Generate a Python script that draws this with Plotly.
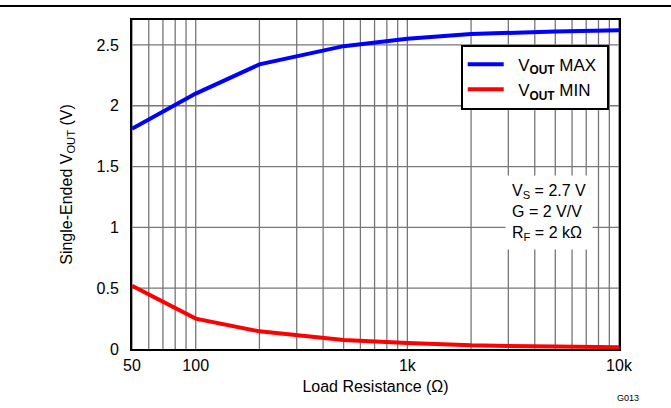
import plotly.graph_objects as go

load_res = [50, 100, 200, 500, 1000, 2000, 5000, 10000]
vout_max = [1.81, 2.10, 2.34, 2.49, 2.55, 2.59, 2.61, 2.62]
vout_min = [0.52, 0.25, 0.145, 0.075, 0.05, 0.03, 0.02, 0.015]

x_tickvals = [50, 100, 1000, 10000]
x_ticktext = ["50", "100", "1k", "10k"]
x_grid = [50, 60, 70, 80, 90, 100, 200, 300, 400, 500, 600, 700, 800, 900,
          1000, 2000, 3000, 4000, 5000, 6000, 7000, 8000, 9000, 10000]
y_tickvals = [0, 0.5, 1, 1.5, 2, 2.5]
y_ticktext = ["0", "0.5", "1", "1.5", "2", "2.5"]

font = "Liberation Sans, Arial, sans-serif"

fig = go.Figure()
fig.add_trace(go.Scatter(x=load_res, y=vout_max, mode="lines",
                         line=dict(color="#0000ff", width=4),
                         name="&nbsp;&nbsp;V<sub><b>OUT</b></sub> MAX&nbsp;"))
fig.add_trace(go.Scatter(x=load_res, y=vout_min, mode="lines",
                         line=dict(color="#ff0000", width=4),
                         name="&nbsp;&nbsp;V<sub><b>OUT</b></sub> MIN&nbsp;"))

shapes = []
for g in x_grid:
    shapes.append(dict(type="line", xref="x", yref="paper", x0=g, x1=g, y0=0, y1=1,
                       line=dict(color="#777777", width=1.3), layer="below"))
for v in y_tickvals[1:]:
    shapes.append(dict(type="line", xref="paper", yref="y", x0=0, x1=1, y0=v, y1=v,
                       line=dict(color="#777777", width=1.3), layer="below"))
# top rule across the page
shapes.append(dict(type="line", xref="paper", yref="paper", x0=-0.272, x1=1.107,
                   y0=1.0425, y1=1.0425, line=dict(color="black", width=2)))

fig.update_layout(
    width=671, height=408,
    margin=dict(l=132, r=52, t=20, b=59),
    paper_bgcolor="white", plot_bgcolor="white",
    font=dict(family=font, size=16, color="black"),
    showlegend=True,
    legend=dict(x=0.675, y=0.925, xanchor="left", yanchor="top",
                bordercolor="black", borderwidth=2, bgcolor="white",
                font=dict(size=17), tracegroupgap=0, itemwidth=36),
    shapes=shapes,
    xaxis=dict(type="log", range=[1.69897, 4], tickvals=x_tickvals, ticktext=x_ticktext,
               showgrid=False, zeroline=False, showline=True, mirror=True,
               linecolor="black", linewidth=2, ticks="", ticklabelstandoff=1,
               title=dict(text="Load Resistance (Ω)", font=dict(size=16), standoff=8)),
    yaxis=dict(range=[0, 2.705], tickvals=y_tickvals, ticktext=y_ticktext,
               showgrid=False, zeroline=False, showline=True, mirror=True,
               linecolor="black", linewidth=2, ticks="", ticklabelstandoff=8,
               title=dict(text="Single-Ended V<sub>OUT</sub> (V)", font=dict(size=16), standoff=20)),
    annotations=[
        dict(xref="paper", yref="paper", x=0.856, y=0.415, xanchor="center", yanchor="middle",
             text="V<sub>S</sub> = 2.7 V<br>G = 2 V/V<br>R<sub>F</sub> = 2 kΩ",
             showarrow=False, align="left", bgcolor="white",
             font=dict(size=16), borderpad=6),
        dict(xref="paper", yref="paper", x=1.018, y=-0.149, text="G013",
             showarrow=False, font=dict(size=9), xanchor="center", yanchor="middle"),
    ],
)

fig.write_html("out.html", config={"displayModeBar": False},
               post_script="document.body.style.margin='0';")
